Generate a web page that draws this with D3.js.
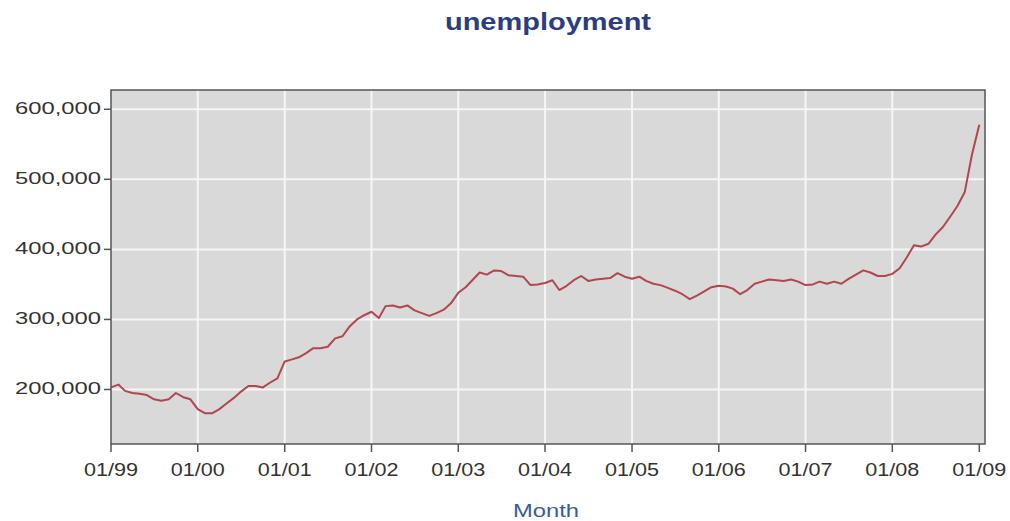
<!DOCTYPE html>
<html><head><meta charset="utf-8">
<script src="https://cdn.jsdelivr.net/npm/d3@7"></script>
<style>body{margin:0;background:#fff}svg{display:block}</style>
</head><body>
<svg id="chart" width="1010" height="521"></svg>
<script>
const chartTitle = "unemployment";
const xAxisTitle = "Month";
const firstMonth = "1999-01-01";
// monthly unemployment, Jan 1999 .. Jan 2009
const unemployment = [
  203000,207000,198000,195000,194000,192000,186000,184000,186000,195000,189000,186000,
  172000,166000,166000,172000,180000,188000,197000,205000,205000,203000,210000,216000,
  240000,243000,246000,252000,259000,259000,261000,273000,276000,290000,300000,306000,
  311000,302000,319000,320000,317000,320000,313000,309000,305000,309000,314000,323000,
  338000,346000,356000,367000,364000,370000,369000,363000,362000,361000,349000,350000,
  352000,356000,342000,348000,356000,362000,355000,357000,358000,359000,366000,361000,
  358000,361000,355000,351000,349000,345000,341000,336000,329000,334000,340000,346000,
  348000,347000,344000,336000,342000,351000,354000,357000,356000,355000,357000,354000,
  349000,350000,354000,351000,354000,351000,358000,364000,370000,367000,362000,362000,
  365000,373000,388000,406000,404000,408000,421000,432000,447000,462000,482000,535000,
  578000
];
const xTickDates = ["1999-01-01","2000-01-01","2001-01-01","2002-01-01","2003-01-01","2004-01-01",
                    "2005-01-01","2006-01-01","2007-01-01","2008-01-01","2009-01-01"];
const xTickLabels = ["01/99","01/00","01/01","01/02","01/03","01/04","01/05","01/06","01/07","01/08","01/09"];
const yTicks = [200000,300000,400000,500000,600000];
const yTickLabels = ["200,000","300,000","400,000","500,000","600,000"];

const parse = d3.timeParse("%Y-%m-%d");
const start = parse(firstMonth);
const series = unemployment.map((v,i)=>({date:d3.timeMonth.offset(start,i), value:v}));

const P = {left:111, right:985, top:90, bottom:444};
const x = d3.scaleTime().domain([parse("1999-01-01"), parse("2009-01-25")]).range([P.left, P.right]);
const y = d3.scaleLinear().domain([122200, 627500]).range([P.bottom, P.top]);

const svg = d3.select("#chart");
const FONT = "'Liberation Sans', Arial, sans-serif";

function stretchedText(parent, tx, ty, txt, opts){
  const g = parent.append("g").attr("transform", `translate(${tx},${ty}) scale(${opts.sx},1)`);
  g.append("text").attr("x",0).attr("y",0)
    .attr("text-anchor", opts.anchor||"middle")
    .attr("font-family", FONT)
    .attr("font-size", opts.size)
    .attr("font-weight", opts.weight||"normal")
    .attr("fill", opts.fill)
    .text(txt);
  return g;
}

// plot background
svg.append("rect").attr("x",P.left).attr("y",P.top)
  .attr("width",P.right-P.left).attr("height",P.bottom-P.top).attr("fill","#d9d9d9");

// grid
const grid = svg.append("g");
grid.selectAll("line.h").data(yTicks).join("line")
  .attr("x1",P.left).attr("x2",P.right)
  .attr("y1",d=>y(d)).attr("y2",d=>y(d))
  .attr("stroke","#f6f6f6").attr("stroke-width",2);
grid.selectAll("line.v").data(xTickDates.slice(1,-1)).join("line")
  .attr("x1",d=>x(parse(d))).attr("x2",d=>x(parse(d)))
  .attr("y1",P.top).attr("y2",P.bottom)
  .attr("stroke","#f6f6f6").attr("stroke-width",2);

// line
const line = d3.line().x(d=>x(d.date)).y(d=>y(d.value));
svg.append("path").datum(series).attr("d",line)
  .attr("fill","none").attr("stroke","#b04650").attr("stroke-width",2)
  .attr("stroke-linejoin","round");

// frame
svg.append("rect").attr("x",P.left).attr("y",P.top)
  .attr("width",P.right-P.left).attr("height",P.bottom-P.top)
  .attr("fill","none").attr("stroke","#555").attr("stroke-width",1.5);

// y axis ticks + labels
const yAxis = svg.append("g");
yAxis.selectAll("line").data(yTicks).join("line")
  .attr("x1",P.left-7).attr("x2",P.left).attr("y1",d=>y(d)).attr("y2",d=>y(d))
  .attr("stroke","#555").attr("stroke-width",1.5);
yTicks.forEach((t,i)=>{
  stretchedText(yAxis, P.left-10, y(t)+5, yTickLabels[i], {anchor:"end", size:17, fill:"#333", sx:1.4});
});

// x axis ticks + labels
const xAxis = svg.append("g");
xAxis.selectAll("line").data(xTickDates).join("line")
  .attr("x1",d=>x(parse(d))).attr("x2",d=>x(parse(d)))
  .attr("y1",P.bottom).attr("y2",P.bottom+8)
  .attr("stroke","#555").attr("stroke-width",1.5);
xTickDates.forEach((d,i)=>{
  stretchedText(xAxis, x(parse(d)), 476, xTickLabels[i], {anchor:"middle", size:18, fill:"#333", sx:1.2});
});

// titles
stretchedText(svg, 548, 30, chartTitle, {anchor:"middle", size:23, weight:"bold", fill:"#2b3d80", sx:1.26});
stretchedText(svg, 546, 517, xAxisTitle, {anchor:"middle", size:18, fill:"#3d5a9a", sx:1.32});
</script>
</body></html>
